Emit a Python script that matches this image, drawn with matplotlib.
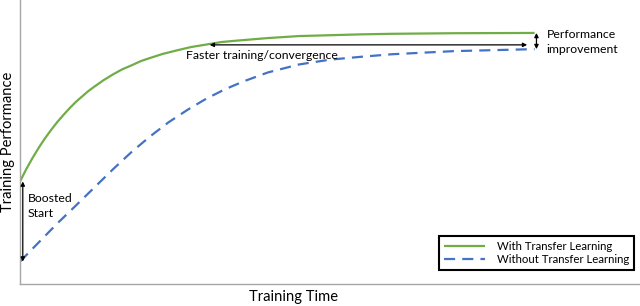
import matplotlib
matplotlib.use("Agg")
import matplotlib.pyplot as plt

plt.rcParams['font.family'] = ['Lato', 'DejaVu Sans']

# Training time (arbitrary units) and performance (arbitrary units)
time_with = [0, 1, 2, 3, 4, 5, 6, 7, 8, 9, 10, 11, 12, 13.5, 15, 16.5, 18, 19.5, 21, 23,
             25, 27.5, 30, 32.5, 35, 40, 45, 50, 55, 60, 70, 83]
perf_with = [36.1, 40.4, 44.3, 47.9, 51.2, 54.2, 57.0, 59.5, 61.9, 64.1, 66.0, 67.9,
             69.5, 71.8, 73.8, 75.6, 77.0, 78.5, 79.6, 81.0, 82.1, 83.4, 84.3, 85.2,
             85.7, 86.6, 87.3, 87.6, 87.9, 88.1, 88.3, 88.4]

time_without = [0, 3, 6, 9, 12, 15, 18, 21, 24, 27, 30, 33, 36, 40, 45, 50, 55, 60, 70, 83]
perf_without = [7.9, 14.6, 21.3, 27.6, 34.0, 40.4, 46.5, 52.0, 57.0, 61.3, 65.2, 68.5,
                71.3, 74.5, 77.3, 79.0, 80.0, 80.9, 82.0, 82.7]

series_labels = ["With Transfer Learning", "Without Transfer Learning"]
x_label = "Training Time"
y_label = "Training Performance"

fig = plt.figure(figsize=(6.4, 3.06), dpi=100)
ax = fig.add_axes([20/640, 22/306, 620/640, 284/306])

green = "#70AD47"
blue = "#4472C4"

ax.plot(time_with, perf_with, color=green, lw=1.6, label=series_labels[0],
        solid_capstyle='butt', solid_joinstyle='round')
ax.plot(time_without, perf_without, color=blue, lw=1.6, ls=(0, (5, 3.2)),
        label=series_labels[1])

ax.set_xlim(0, 100)
ax.set_ylim(0, 100)
ax.set_xticks([])
ax.set_yticks([])
for s in ["top", "right"]:
    ax.spines[s].set_visible(False)
for s in ["left", "bottom"]:
    ax.spines[s].set_color("#A6A6A6")
    ax.spines[s].set_linewidth(1.0)

fig.text(294/640, 1 - 297/306, x_label, ha='center', va='center', fontsize=10.6)
fig.text(8/640, 1 - 142/306, y_label, ha='center', va='center', rotation=90, fontsize=10.6)

arrow = dict(arrowstyle='<|-|>', color='black', lw=0.9, mutation_scale=6,
             shrinkA=0, shrinkB=0)

# Boosted start
ax.annotate("", xy=(0.45, perf_with[0]), xytext=(0.45, perf_without[0]), arrowprops=arrow)
ax.text(1.2, 27.6, "Boosted\nStart", ha='left', va='center', fontsize=8.8, linespacing=1.45)

# Faster training / convergence
ax.annotate("", xy=(30.6, 84.2), xytext=(81.8, 84.2), arrowprops=arrow)
ax.text(39.0, 80.4, "Faster training/convergence", ha='center', va='center', fontsize=8.8)

# Performance improvement
ax.annotate("", xy=(83.3, perf_with[-1]), xytext=(83.3, perf_without[-1]), arrowprops=arrow)
ax.text(90.6, 85.2, "Performance\nimprovement", ha='center', va='center', fontsize=8.8,
        linespacing=1.5, multialignment='center')

leg = ax.legend(loc='lower right', fontsize=8.2, frameon=True,
                fancybox=False, edgecolor='black', handlelength=3.6,
                borderpad=0.45, labelspacing=0.15, handletextpad=1.0, framealpha=1,
                borderaxespad=0)
leg.get_frame().set_linewidth(1.5)
leg.set_bbox_to_anchor((634/640, 1 - 270/306), transform=fig.transFigure)

fig.savefig("out.png", dpi=100)
